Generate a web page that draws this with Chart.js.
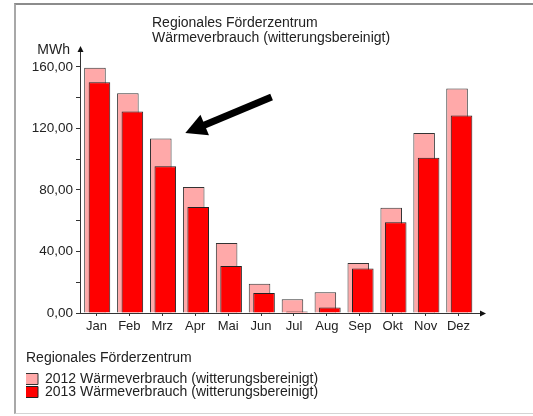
<!DOCTYPE html>
<html lang="de">
<head>
<meta charset="utf-8">
<title>Wärmeverbrauch</title>
<script src="https://cdn.jsdelivr.net/npm/chart.js@4.4.1/dist/chart.umd.min.js"></script>
<style>
    html, body { margin: 0; padding: 0; background: #fff; overflow: hidden; }
    #wrap { position: relative; width: 533px; height: 416px; font-family: "Liberation Sans", Arial, sans-serif; color: #222; }
    #frame { position: absolute; left: 14px; top: 3px; width: 600px; height: 408px; border-top: 2px solid #8c8c8c; border-left: 2px solid #a8a8a8; border-bottom: 1px solid #d4d4d4; }
    #title { position: absolute; left: 152px; top: 15px; font-size: 14px; line-height: 15px; white-space: nowrap; }
    canvas { position: absolute; left: 0; top: 0; }
</style>
</head>
<body>
<div id="wrap">
    <div id="frame"></div>
    <canvas id="heat-chart" width="533" height="416"></canvas>
    <div id="title">Regionales Förderzentrum<br>Wärmeverbrauch (witterungsbereinigt)</div>
</div>
<script>
// values (MWh)
const months = ['Jan', 'Feb', 'Mrz', 'Apr', 'Mai', 'Jun', 'Jul', 'Aug', 'Sep', 'Okt', 'Nov', 'Dez'];
const heat2012 = [159.5, 143, 113.5, 82, 45.5, 19, 9, 13.5, 32.5, 68.5, 117, 146];
const heat2013 = [150, 131, 95.5, 69, 30.5, 13, 1, 3.5, 29, 59, 101, 128.5];
const seriesNames = ['2012 Wärmeverbrauch (witterungsbereinigt)', '2013 Wärmeverbrauch (witterungsbereinigt)'];
const yLabelTicks = [0, 40, 80, 120, 160];
const yTop = 173;

const textColor = '#222';
const axisColor = '#333';

function formatMWh(value) {
    return value.toFixed(2).replace('.', ',');
}

// shifts a dataset sideways a few pixels so the two years overlap like the original
const barShift = {
    id: 'barShift',
    beforeDatasetDraw(chart, args) {
        const shift = chart.data.datasets[args.index].shift || 0;
        chart.ctx.save();
        chart.ctx.translate(shift, 0);
    },
    afterDatasetDraw(chart) {
        chart.ctx.restore();
    }
};

// axis arrows, unit label and the pointer arrow
const axisDecor = {
    id: 'axisDecor',
    afterDraw(chart) {
        const ctx = chart.ctx;
        const a = chart.chartArea;
        const x = chart.scales.x;
        const y = chart.scales.y;
        ctx.save();
        ctx.strokeStyle = axisColor;
        ctx.fillStyle = '#111';
        ctx.lineWidth = 1;

        // x axis runs on past December
        ctx.beginPath();
        ctx.moveTo(a.right, Math.round(a.bottom) + 0.5);
        ctx.lineTo(a.right + 6, Math.round(a.bottom) + 0.5);
        ctx.stroke();
        ctx.beginPath();
        ctx.moveTo(a.right + 11, Math.round(a.bottom) + 0.5);
        ctx.lineTo(a.right + 5, Math.round(a.bottom) - 2.5);
        ctx.lineTo(a.right + 5, Math.round(a.bottom) + 3.5);
        ctx.closePath();
        ctx.fill();

        // y axis arrow head
        const ax = Math.round(a.left) + 0.5;
        ctx.beginPath();
        ctx.moveTo(ax, a.top - 1);
        ctx.lineTo(ax - 3, a.top + 5);
        ctx.lineTo(ax + 3, a.top + 5);
        ctx.closePath();
        ctx.fill();

        // unit
        ctx.fillStyle = textColor;
        ctx.font = '14px "Liberation Sans", Arial, sans-serif';
        ctx.textAlign = 'right';
        ctx.textBaseline = 'middle';
        ctx.fillText('MWh', a.left - 10, a.top + 3);

        // black pointer arrow towards March
        const x0 = x.getPixelForValue(5.32), y0 = y.getPixelForValue(140.5);
        const x1 = x.getPixelForValue(2.7), y1 = y.getPixelForValue(117);
        const ang = Math.atan2(y1 - y0, x1 - x0);
        const headLen = 21, headHalf = 11;
        const bx = x1 - headLen * Math.cos(ang), by = y1 - headLen * Math.sin(ang);
        ctx.strokeStyle = '#000';
        ctx.fillStyle = '#000';
        ctx.lineWidth = 7;
        ctx.beginPath();
        ctx.moveTo(x0, y0);
        ctx.lineTo(bx + 2 * Math.cos(ang), by + 2 * Math.sin(ang));
        ctx.stroke();
        ctx.beginPath();
        ctx.moveTo(x1, y1);
        ctx.lineTo(bx + headHalf * Math.sin(ang), by - headHalf * Math.cos(ang));
        ctx.lineTo(bx - headHalf * Math.sin(ang), by + headHalf * Math.cos(ang));
        ctx.closePath();
        ctx.fill();
        ctx.restore();
    }
};

const ctx = document.getElementById('heat-chart').getContext('2d');
new Chart(ctx, {
    type: 'bar',
    data: {
        labels: months,
        datasets: [
            {
                label: seriesNames[0],
                data: heat2012,
                backgroundColor: '#ffa9a9',
                borderColor: '#333',
                borderWidth: 1,
                order: 2,
                shift: -1.5
            },
            {
                label: seriesNames[1],
                data: heat2013,
                backgroundColor: '#ff0000',
                borderColor: '#222',
                borderWidth: 1,
                order: 1,
                shift: 3
            }
        ]
    },
    options: {
        responsive: false,
        animation: false,
        devicePixelRatio: 1,
        layout: {
            padding: { left: 26, right: 58, top: 47, bottom: 7 }
        },
        datasets: {
            bar: {
                grouped: false,
                categoryPercentage: 1,
                barPercentage: 0.655
            }
        },
        plugins: {
            title: { display: false },
            tooltip: { enabled: false },
            legend: {
                position: 'bottom',
                align: 'start',
                reverse: true,
                title: {
                    display: true,
                    text: 'Regionales Förderzentrum',
                    position: 'start',
                    color: textColor,
                    padding: { top: 0, bottom: 8 },
                    font: { family: '"Liberation Sans", Arial, sans-serif', size: 14, lineHeight: 1 }
                },
                labels: {
                    boxWidth: 13,
                    boxHeight: 11,
                    padding: -1,
                    color: textColor,
                    font: { family: '"Liberation Sans", Arial, sans-serif', size: 14 }
                }
            }
        },
        scales: {
            x: {
                offset: true,
                grid: { display: true, offset: false, drawOnChartArea: false, tickLength: 3, color: axisColor },
                border: { display: true, color: axisColor, width: 1 },
                ticks: {
                    color: textColor,
                    padding: 3,
                    maxRotation: 0,
                    autoSkip: false,
                    font: { family: '"Liberation Sans", Arial, sans-serif', size: 13 }
                },
                afterFit: function(scale) {
                    scale.height = 38;
                }
            },
            y: {
                min: 0,
                max: yTop,
                grid: { display: true, drawOnChartArea: false, tickLength: 4, color: axisColor },
                border: { display: true, color: axisColor, width: 1 },
                ticks: {
                    stepSize: 10,
                    padding: 3,
                    color: textColor,
                    font: { family: '"Liberation Sans", Arial, sans-serif', size: 13.5 },
                    callback: function(value) {
                        return yLabelTicks.includes(value) ? formatMWh(value) : '';
                    }
                },
                afterBuildTicks: function(scale) {
                    scale.ticks = scale.ticks.filter(t => t.value % 10 === 0);
                },
                afterFit: function(scale) {
                    scale.width = 54;
                }
            }
        }
    },
    plugins: [barShift, axisDecor]
});
</script>
</body>
</html>
